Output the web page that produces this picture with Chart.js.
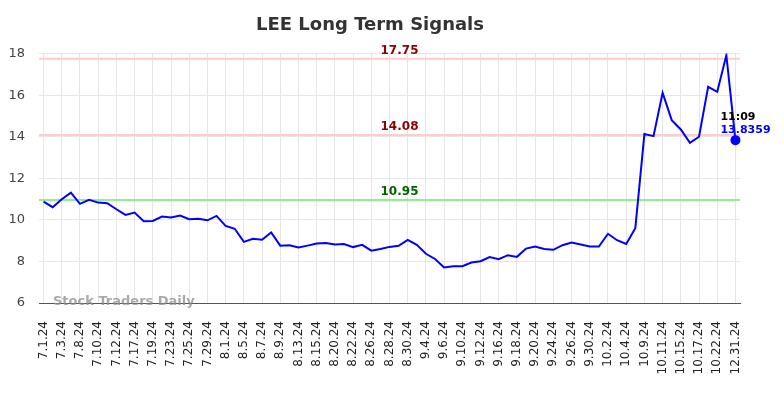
<!DOCTYPE html>
<html>
<head>
<meta charset="utf-8">
<script src="https://cdn.jsdelivr.net/npm/chart.js@4"></script>
<style>
  body { margin: 0; background: #fff; }
  #wrap { width: 784px; height: 398px; }
</style>
</head>
<body>
<div id="wrap"><canvas id="chart"></canvas></div>
<script>
// trading days shown on the x axis (every other one gets a label)
var dates = ['7.1.24','7.2.24','7.3.24','7.5.24','7.8.24','7.9.24','7.10.24','7.11.24','7.12.24','7.16.24',
  '7.17.24','7.18.24','7.19.24','7.22.24','7.23.24','7.24.24','7.25.24','7.26.24','7.29.24','7.30.24',
  '8.1.24','8.2.24','8.5.24','8.6.24','8.7.24','8.8.24','8.9.24','8.12.24','8.13.24','8.14.24',
  '8.15.24','8.16.24','8.20.24','8.21.24','8.22.24','8.23.24','8.26.24','8.27.24','8.28.24','8.29.24',
  '8.30.24','9.3.24','9.4.24','9.5.24','9.6.24','9.9.24','9.10.24','9.11.24','9.12.24','9.13.24',
  '9.16.24','9.17.24','9.18.24','9.19.24','9.20.24','9.23.24','9.24.24','9.25.24','9.26.24','9.27.24',
  '9.30.24','10.1.24','10.2.24','10.3.24','10.4.24','10.8.24','10.9.24','10.10.24','10.11.24','10.14.24',
  '10.15.24','10.16.24','10.17.24','10.18.24','10.22.24','12.30.24','12.31.24'];

var prices = [10.88,10.61,10.99,11.31,10.77,10.96,10.83,10.80,10.51,10.24,
  10.35,9.93,9.95,10.16,10.11,10.21,10.03,10.05,9.98,10.19,
  9.71,9.57,8.94,9.09,9.04,9.39,8.76,8.78,8.67,8.76,
  8.86,8.89,8.81,8.84,8.69,8.80,8.52,8.60,8.70,8.75,
  9.04,8.80,8.37,8.12,7.71,7.77,7.77,7.95,8.01,8.21,
  8.11,8.30,8.22,8.62,8.72,8.60,8.56,8.78,8.91,8.81,
  8.72,8.72,9.33,9.02,8.84,9.60,14.13,14.03,16.11,14.80,
  14.35,13.71,14.00,16.40,16.16,17.92,13.8359];

var yMin = 6, yMax = 18, yStep = 2;

// signal levels: two resistance (red) and one support (green)
var upperSignals = [17.75, 14.08];
var lowerSignals = [10.95];

var lastTime = '11:09';
var lastPrice = 13.8359;

var last = prices.length - 1;

var signalPlugin = {
  id: 'signals',
  beforeDatasetsDraw: function(chart) {
    var ctx = chart.ctx, area = chart.chartArea, y = chart.scales.y;
    var midX = (area.left + area.right) / 2 + 10;
    function level(v, lineColor, textColor) {
      var py = y.getPixelForValue(v);
      ctx.save();
      ctx.strokeStyle = lineColor;
      ctx.lineWidth = 2;
      ctx.beginPath();
      ctx.moveTo(area.left, py);
      ctx.lineTo(area.right, py);
      ctx.stroke();
      ctx.font = 'bold 12px "DejaVu Sans"';
      ctx.fillStyle = textColor;
      ctx.textAlign = 'center';
      ctx.textBaseline = 'middle';
      ctx.fillText(v.toFixed(2), midX, py - 8);
      ctx.restore();
    }
    upperSignals.forEach(function(v) { level(v, '#ffcccc', '#8b0000'); });
    lowerSignals.forEach(function(v) { level(v, '#90ee90', '#006400'); });

    // watermark
    ctx.save();
    ctx.font = 'bold 13px "DejaVu Sans"';
    ctx.fillStyle = 'rgba(140,140,140,0.75)';
    ctx.textAlign = 'left';
    ctx.textBaseline = 'middle';
    ctx.fillText('Stock Traders Daily', area.left + 14, area.bottom - 1);
    ctx.restore();
  },
  afterDatasetsDraw: function(chart) {
    var ctx = chart.ctx;
    var px = chart.scales.x.getPixelForValue(last);
    var py = chart.scales.y.getPixelForValue(lastPrice);
    ctx.save();
    ctx.font = 'bold 11px "DejaVu Sans"';
    ctx.textAlign = 'left';
    ctx.textBaseline = 'middle';
    ctx.fillStyle = '#000';
    ctx.fillText(lastTime, px - 15, py - 23);
    ctx.fillStyle = '#0000ff';
    ctx.fillText(String(lastPrice), px - 15, py - 10);
    ctx.restore();
  }
};

new Chart(document.getElementById('chart'), {
  type: 'line',
  data: {
    labels: dates,
    datasets: [{
      data: prices,
      borderColor: '#0000ff',
      backgroundColor: '#0000ff',
      borderWidth: 2,
      tension: 0,
      pointRadius: function(c) { return c.dataIndex === last ? 4 : 0; },
      pointHoverRadius: 0
    }]
  },
  options: {
    responsive: true,
    maintainAspectRatio: false,
    animation: false,
    layout: { padding: { left: 0, right: 44, top: 0, bottom: 0 } },
    plugins: {
      legend: { display: false },
      tooltip: { enabled: false },
      title: {
        display: true,
        text: 'LEE Long Term Signals',
        color: '#333',
        font: { family: 'DejaVu Sans', size: 18, weight: 'bold' },
        padding: { top: 15, bottom: 17 }
      }
    },
    scales: {
      x: {
        offset: true,
        grid: { color: '#e6e6e6', drawTicks: false },
        border: { display: true, color: '#555', width: 1 },
        afterFit: function(s) { s.height = 95; },
        ticks: {
          autoSkip: false,
          maxRotation: 90,
          minRotation: 90,
          padding: 18,
          color: '#222',
          font: { family: 'DejaVu Sans', size: 12 },
          callback: function(v, i) { return i % 2 === 0 ? this.getLabelForValue(v) : null; }
        }
      },
      y: {
        min: yMin,
        max: yMax,
        grid: { color: '#e6e6e6', drawTicks: false },
        border: { display: false },
        afterFit: function(s) { s.width = 39; },
        ticks: {
          stepSize: yStep,
          padding: 14,
          color: '#444',
          font: { family: 'DejaVu Sans', size: 13 }
        }
      }
    }
  },
  plugins: [signalPlugin]
});
</script>
</body>
</html>
